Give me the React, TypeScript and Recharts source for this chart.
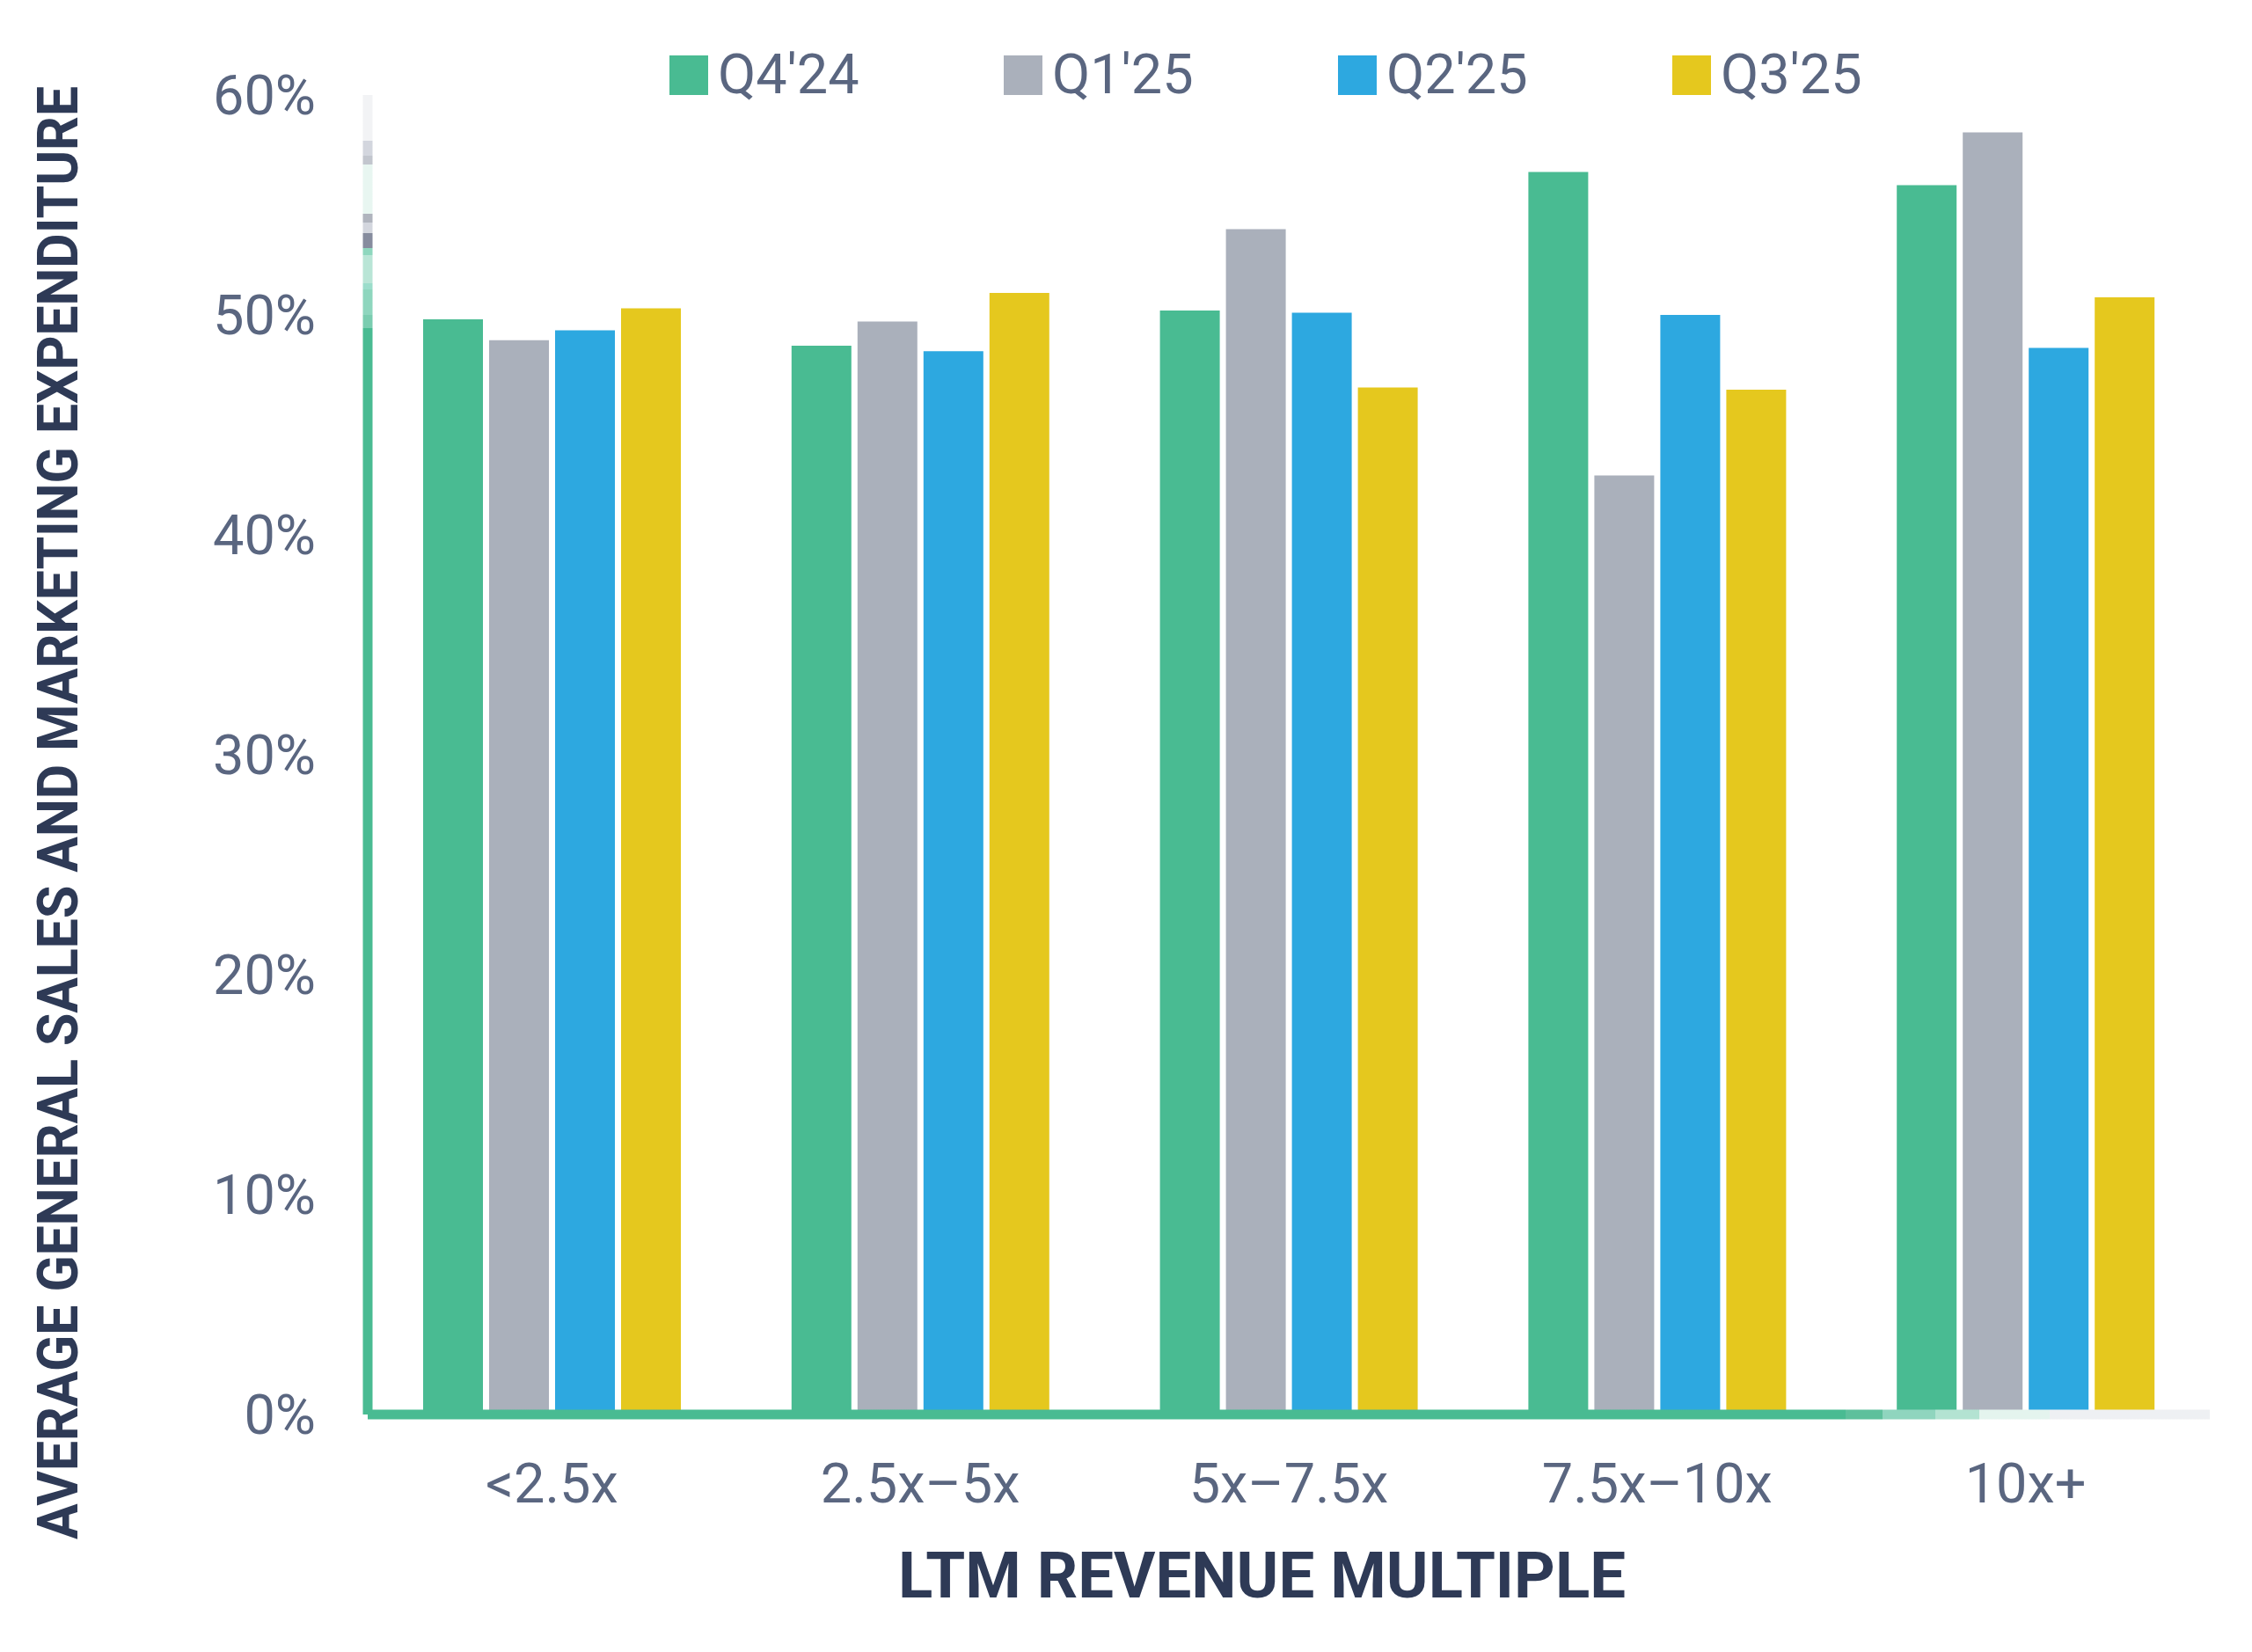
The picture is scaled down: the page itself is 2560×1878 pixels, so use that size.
import React from 'react';
import { BarChart, Bar, XAxis, YAxis, Legend } from 'recharts';

const categories = ['<2.5x', '2.5x–5x', '5x–7.5x', '7.5x–10x', '10x+'];
const q424 = [49.8, 48.6, 50.2, 56.5, 55.9];
const q125 = [48.85, 49.7, 53.9, 42.7, 58.3];
const q225 = [49.3, 48.35, 50.1, 50.0, 48.5];
const q325 = [50.3, 51.0, 46.7, 46.6, 50.8];
const seriesNames = ["Q4'24", "Q1'25", "Q2'25", "Q3'25"];
const seriesColors = ['#49BB92', '#AAB0BB', '#2DA8E0', '#E5C81E'];
const yTicks = [0, 10, 20, 30, 40, 50, 60];

const seriesValues = [q424, q125, q225, q325];
const data = categories.map((cat, i) => {
  const row: Record<string, string | number> = { cat };
  seriesValues.forEach((vals, s) => {
    row['s' + s] = vals[i];
  });
  return row;
});

const TICK_COLOR = '#5A6680';
const TITLE_COLOR = '#2E3A56';
const FONT = 'Roboto, "Open Sans", sans-serif';

const yStops: [number, string][] = [
  [0, '#F2F3F5'], [160, '#F2F3F5'], [160, '#D3D6DE'], [177, '#D3D6DE'], [177, '#C2C6CE'], [187, '#C2C6CE'],
  [187, '#E8F6F1'], [243, '#E8F6F1'], [243, '#B0B4BE'], [253, '#B0B4BE'], [253, '#D3D6DE'], [265, '#D3D6DE'],
  [265, '#868C9E'], [282, '#868C9E'], [282, '#8ED7BE'], [290, '#8ED7BE'], [290, '#B9E5D6'], [322, '#B9E5D6'],
  [322, '#9BDDCB'], [329, '#9BDDCB'], [329, '#8ED6BE'], [358, '#8ED6BE'], [358, '#7ACDB0'], [373, '#7ACDB0'],
  [373, '#49BB92'], [1878, '#49BB92'],
];
const xStops: [number, string][] = [
  [0, '#49BB92'], [2098, '#49BB92'], [2098, '#5EC09C'], [2140, '#5EC09C'], [2140, '#8FD5BE'], [2200, '#8FD5BE'],
  [2200, '#B3E3D2'], [2250, '#B3E3D2'], [2250, '#E4F4EE'], [2330, '#E4F4EE'], [2330, '#EEF0F3'], [2560, '#EEF0F3'],
];

const renderLegend = () => (
  <div style={{ display: 'flex', height: 46, alignItems: 'center', fontFamily: FONT }}>
    {seriesNames.map((name, i) => (
      <div key={name} style={{ width: 380, display: 'flex', alignItems: 'center', height: 46 }}>
        <div style={{ width: 44, height: 45, background: seriesColors[i], marginRight: 11 }} />
        <span style={{ fontSize: 63, color: TICK_COLOR, lineHeight: '46px' }}>{name}</span>
      </div>
    ))}
  </div>
);

const XTitle = (props: any) => {
  const vb = props.viewBox || { x: 418, y: 1608, width: 2094 };
  return (
    <text
      x={vb.x + 1016.5}
      y={vb.y + 208}
      textAnchor="middle"
      fill={TITLE_COLOR}
      fontFamily={FONT}
      fontWeight={700}
      fontSize={73}
      textLength={827}
      lengthAdjust="spacingAndGlyphs"
    >
      LTM REVENUE MULTIPLE
    </text>
  );
};

const YTitle = (props: any) => {
  const vb = props.viewBox || { x: 0, y: 108 };
  const cx = vb.x + 88;
  const cy = vb.y + 816;
  return (
    <text
      x={cx}
      y={cy}
      transform={`rotate(-90, ${cx}, ${cy})`}
      textAnchor="middle"
      fill={TITLE_COLOR}
      fontFamily={FONT}
      fontWeight={700}
      fontSize={64}
      textLength={1652}
      lengthAdjust="spacingAndGlyphs"
    >
      AVERAGE GENERAL SALES AND MARKETING EXPENDITURE
    </text>
  );
};

export default function App() {
  return (
    <div style={{ position: 'absolute', left: 0, top: 0, width: 2560, height: 1878, background: '#FFFFFF' }}>
      <BarChart
        width={2560}
        height={1878}
        data={data}
        margin={{ top: 62, right: 48, bottom: 0, left: 0 }}
        barSize={68}
        barGap={7}
      >
        <defs>
          <linearGradient id="yAxisFade" gradientUnits="userSpaceOnUse" x1="0" y1="0" x2="0" y2="1878">
            {yStops.map(([p, c], i) => (
              <stop key={i} offset={p / 1878} stopColor={c} />
            ))}
          </linearGradient>
          <linearGradient id="xAxisFade" gradientUnits="userSpaceOnUse" x1="0" y1="0" x2="2560" y2="0">
            {xStops.map(([p, c], i) => (
              <stop key={i} offset={p / 2560} stopColor={c} />
            ))}
          </linearGradient>
        </defs>
        <Legend
          verticalAlign="top"
          align="left"
          content={renderLegend}
          wrapperStyle={{ top: 62, left: 761, width: 1520, height: 46 }}
        />
        <XAxis
          dataKey="cat"
          height={270}
          tickLine={false}
          tickSize={0}
          tickMargin={55}
          axisLine={{ stroke: 'url(#xAxisFade)', strokeWidth: 11 }}
          tick={{ fill: TICK_COLOR, fontSize: 63, fontFamily: FONT }}
          label={<XTitle />}
        />
        <YAxis
          width={418}
          domain={[0, 60]}
          ticks={yTicks}
          tickFormatter={(v: number) => `${v}%`}
          tickLine={false}
          tickSize={0}
          tickMargin={59}
          axisLine={{ stroke: 'url(#yAxisFade)', strokeWidth: 11 }}
          tick={{ fill: TICK_COLOR, fontSize: 63, fontFamily: FONT }}
          label={<YTitle />}
        />
        {seriesNames.map((name, i) => (
          <Bar key={name} dataKey={'s' + i} name={name} fill={seriesColors[i]} isAnimationActive={false} />
        ))}
      </BarChart>
    </div>
  );
}
